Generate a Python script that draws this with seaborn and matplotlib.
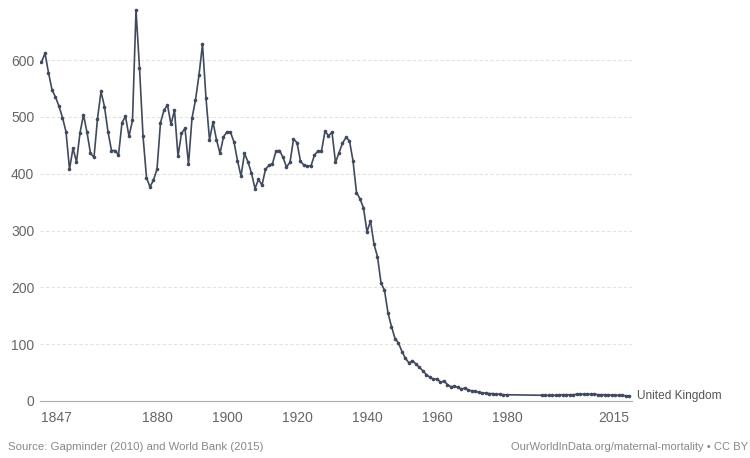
import numpy as np
import pandas as pd
import matplotlib
matplotlib.use("Agg")
import matplotlib.pyplot as plt
import seaborn as sns

OUTPUT_IMAGE_PATH = "out.png"

# Maternal deaths per 100,000 live births, United Kingdom
years_early = list(range(1847, 1981))
values_early = [
    597, 612, 578, 548, 535, 519, 499, 474, 408, 445,   # 1847-1856
    421, 472, 504, 473, 436, 429, 497, 545, 518, 474,   # 1857-1866
    441, 441, 433, 490, 501, 466, 494, 688, 587, 467,   # 1867-1876
    393, 377, 389, 408, 490, 512, 521, 487, 512, 431,   # 1877-1886
    471, 480, 417, 498, 530, 574, 628, 533, 460, 491,   # 1887-1896
    460, 436, 465, 474, 473, 456, 423, 396, 436, 421,   # 1897-1906
    401, 374, 390, 380, 408, 415, 418, 440, 441, 429,   # 1907-1916
    412, 420, 461, 455, 422, 415, 414, 414, 433, 440,   # 1917-1926
    440, 475, 467, 473, 420, 437, 454, 464, 458, 423,   # 1927-1936
    367, 356, 340, 298, 317, 276, 254, 208, 195, 155,   # 1937-1946
    131, 110, 102, 87, 75, 67, 71, 65, 59, 53,          # 1947-1956
    46, 42, 38, 39, 33, 35, 29, 25, 26, 24,             # 1957-1966
    21, 23, 19, 18, 17, 15, 14, 14, 13, 13,             # 1967-1976
    12, 12, 11, 11,                                     # 1977-1980
]
years_late = list(range(1990, 2016))
values_late = [
    10, 10, 10, 10, 10, 11, 11, 11, 11, 11,
    12, 12, 12, 12, 12, 12, 11, 11, 11, 11,
    10, 10, 10, 10, 9, 9,
]
x_ticks = [1847, 1880, 1900, 1920, 1940, 1960, 1980, 2015]
y_ticks = [0, 100, 200, 300, 400, 500, 600]
series_name = "United Kingdom"

LINE_COLOR = "#3f4a5e"
TEXT_COLOR = "#666666"


def build_frame():
    df = pd.DataFrame({
        "Year": years_early + years_late,
        "Deaths": values_early + values_late,
    })
    df["Entity"] = series_name
    return df


def draw(df):
    sns.set_style("white")
    plt.rcParams["font.family"] = ["Liberation Sans", "DejaVu Sans"]

    fig = plt.figure(figsize=(7.5, 4.58), dpi=100)
    x0, x1 = 1846.5, 2015.8
    ax = fig.add_axes([39.75 / 750, 57 / 458, (x1 - x0) * 3.5 / 750, 397.6 / 458])

    sns.lineplot(data=df, x="Year", y="Deaths", ax=ax, color=LINE_COLOR,
                 linewidth=1.2, marker="o", markersize=2.6,
                 markeredgewidth=0, legend=False, zorder=3)

    ax.set_xlim(x0, x1)
    ax.set_ylim(0, 700)
    ax.set_xticks(x_ticks)
    ax.set_yticks(y_ticks)
    ax.set_xlabel("")
    ax.set_ylabel("")

    # faint dotted grid, solid baseline
    for v in y_ticks[1:]:
        ax.axhline(v, color="#e2e2e2", linewidth=0.8, linestyle=(0, (3, 2)), zorder=1)
    for s in ["top", "right", "left"]:
        ax.spines[s].set_visible(False)
    ax.spines["bottom"].set_color("#aaaaaa")
    ax.spines["bottom"].set_linewidth(0.8)

    ax.tick_params(axis="x", length=4, width=0.8, color="#aaaaaa",
                   labelcolor=TEXT_COLOR, labelsize=10, pad=3)
    ax.tick_params(axis="y", length=0, labelcolor=TEXT_COLOR, labelsize=10, pad=4)

    # first and last year labels stay inside the axis span
    xlabels = ax.get_xticklabels()
    xlabels[0].set_horizontalalignment("left")
    xlabels[-1].set_horizontalalignment("right")

    # series label at the end of the line
    ax.text(years_late[-1] + 2.2, values_late[-1], series_name, color="#555555",
            fontsize=8.6, va="center", ha="left", clip_on=False)

    fig.text(8 / 750, 1 - 447 / 458, "Source: Gapminder (2010) and World Bank (2015)",
             color="#888888", fontsize=8.2, va="center", ha="left")
    fig.text(748 / 750, 1 - 447 / 458, "OurWorldInData.org/maternal-mortality \u2022 CC BY",
             color="#888888", fontsize=8.0, va="center", ha="right")

    fig.savefig(OUTPUT_IMAGE_PATH, dpi=100)
    plt.close(fig)


if __name__ == "__main__":
    draw(build_frame())
